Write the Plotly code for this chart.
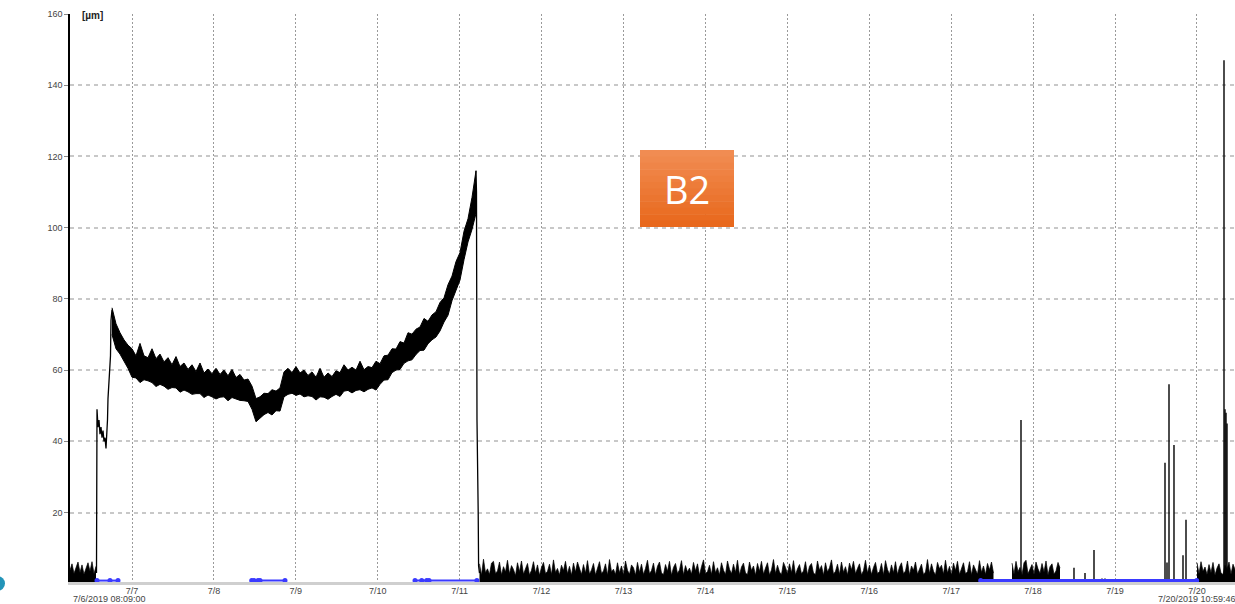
import pandas as pd
import plotly.graph_objects as go

BASE = pd.Timestamp("2019-07-06 00:00:00")

# ---------------- data (time = days after 2019-07-06 00:00, values in µm) -------------
x_range_days = [0.2432, 14.4644]
tick_days = [1, 2, 3, 4, 5, 6, 7, 8, 9, 10, 11, 12, 13, 14]
tick_labels = ["7/7", "7/8", "7/9", "7/10", "7/11", "7/12", "7/13", "7/14",
               "7/15", "7/16", "7/17", "7/18", "7/19", "7/20"]
y_ticks = [20, 40, 60, 80, 100, 120, 140, 160]

NOISE_STEP = 0.024414  # sampling step of the noise-floor readings (days)

# noise floor before the sensor was set
pre_noise_start = 0.2432
pre_noise = [3.8, 5.6, 2.9, 4.8, 6.1, 3.2, 5.3, 2.7, 4.4, 5.9, 3.5, 6.2, 2.8, 4.9]

# first rise
rise_days = [0.5666, 0.5728, 0.5850, 0.5972, 0.6094, 0.6216, 0.6338, 0.6460, 0.6582,
             0.6704, 0.6826, 0.6948, 0.7009, 0.7070, 0.7131, 0.7192, 0.7314, 0.7375,
             0.7437, 0.7559]
rise_vals = [3, 49, 44, 46, 42, 44, 41, 43, 40, 41, 38, 42, 46, 52, 55, 56, 60, 64, 74, 77]

# main noisy band (lower / upper envelope)
band_start = 0.7559
band_step = 0.04883
band_lower = [70, 66, 64.5, 62.5, 60.5, 58, 57.8, 56.5, 57.3, 57,
              56.5, 55.4, 56, 55.5, 54.6, 55.1, 55, 53.8, 54.4, 53.9,
              53.2, 53.4, 53.4, 52.3, 53, 52.5, 51.9, 52.4, 52.5, 51.4,
              52.3, 51.9, 51.5, 51.4, 51.2, 49, 45.5, 46.5, 47.5, 48.1,
              47.4, 48.6, 48.5, 52.5, 53.2, 53.5, 52.9, 53.3, 52.5, 52.8,
              52.6, 51.6, 52.5, 52.4, 51.8, 52.6, 53.2, 52.6, 54.1, 54.3,
              53.6, 54.3, 54.5, 53.9, 54.6, 55, 54.4, 56, 57.2, 57.3,
              59.3, 60, 60.2, 61.9, 62.6, 62.9, 64.4, 65.5, 65.6, 67.4,
              68.5, 69.3, 71, 73.5, 75.4, 79.5, 82.5, 85.3, 91, 96,
              99.5, 104]
band_upper = [77.5, 73, 70.5, 68.5, 67, 66, 64, 67.5, 64, 63.5, 66, 63.2, 64.5, 62.3, 63.5,
              61.5, 63.8, 61, 62, 60.2, 61.5, 59.6, 62, 59.2, 60.3, 59, 60.5, 58.8, 60, 58.4,
              60.2, 57.9, 58.8, 57.2, 57.5, 55.5, 52, 52.5, 53.5, 53.4, 54.5, 54.1, 55, 59.5,
              60.5, 59.3, 61, 59.2, 60, 58.5, 59.5, 58, 60.5, 58, 59.2, 58.2, 59.8, 59.3, 61.5,
              60, 60.8, 60, 62.5, 60.1, 61, 60.7, 62.5, 61.8, 64, 64.2, 66, 65.9, 68, 67.6,
              70.5, 70.1, 71.5, 72.1, 74.5, 73.7, 75.5, 76.4, 79, 80.3, 84, 86.4, 90.5, 93,
              99, 102.5, 108.5, 116]

# collapse after the peak on 7/11
drop_days = [5.1992, 5.2053, 5.2114, 5.2151, 5.2188, 5.2224, 5.2261, 5.2310, 5.2419]
drop_vals = [116, 110, 46, 30, 44, 28, 20, 5, 3]

# noise floor 7/11 - 7/17
noise1_start = 5.2419
noise1 = [5.6, 2.4, 6.9, 3.1, 4.2, 2.6, 5.8, 6.3, 2.9, 3.6, 6.1, 2.5, 4.8, 3.3, 6.6, 2.8, 5.1, 4.0, 2.3, 5.9,
          3.4, 6.4, 2.7, 4.5, 5.7, 2.5, 3.8, 6.2, 3.0, 5.3, 2.4, 4.6, 6.0, 2.9, 3.5, 5.5, 2.6, 6.7, 3.2, 4.3,
          2.5, 5.2, 3.7, 6.3, 2.8, 4.9, 2.4, 5.8, 3.3, 6.1, 4.4, 2.6, 5.4, 3.0, 6.5, 2.7, 3.9, 5.7, 2.5, 4.7,
          6.2, 2.9, 3.6, 5.6, 2.4, 6.8, 3.4, 4.1, 2.6, 5.9, 3.1, 5.0, 2.5, 6.4, 3.8, 2.7, 5.3, 4.5, 2.4, 6.0,
          3.2, 5.5, 2.6, 4.3, 6.6, 2.8, 3.7, 5.8, 2.5, 4.9, 6.1, 3.0, 2.6, 5.4, 3.5, 6.3, 2.4, 4.6, 5.7, 2.9,
          3.9, 6.5, 2.5, 5.1, 3.3, 4.4, 2.7, 6.0, 3.6, 5.6, 2.4, 4.8, 6.7, 2.9, 3.4, 5.2, 2.6, 6.2, 3.1, 4.5,
          2.5, 5.9, 3.8, 2.6, 6.4, 4.1, 2.8, 5.5, 3.2, 6.6, 2.5, 4.7, 5.8, 3.0, 2.6, 6.1, 3.7, 5.0, 2.4, 5.7,
          3.5, 6.3, 2.7, 4.4, 5.9, 2.5, 3.9, 6.8, 2.9, 5.2, 3.3, 2.6, 6.0, 4.6, 2.8, 5.6, 3.1, 6.5, 2.5, 4.2,
          5.4, 2.8, 3.6, 6.2, 2.5, 4.9, 5.7, 3.0, 2.6, 6.4, 3.8, 5.1, 2.4, 5.9, 3.3, 4.5, 6.7, 2.7, 3.5, 5.5,
          2.6, 6.1, 3.2, 4.8, 2.5, 5.8, 3.9, 6.3, 2.8, 4.3, 5.6, 2.5, 3.7, 6.6, 3.0, 5.2, 2.6, 4.6, 6.0, 2.9,
          3.4, 5.7, 2.5, 6.5, 4.0, 2.7, 5.3, 3.1, 6.2, 2.6, 4.7, 5.9, 2.8, 3.6, 6.4, 2.5, 5.0, 3.8, 6.1, 2.7,
          4.4, 5.5, 2.6, 3.3, 6.8, 2.9, 5.6, 3.5, 2.5, 6.0, 4.2, 5.2, 2.7, 6.6, 3.0, 4.9, 2.5, 5.8, 3.7, 6.3,
          2.6, 4.6, 5.9, 2.8, 3.4, 6.2, 2.5, 5.3, 4.1, 2.7, 6.5, 3.2, 5.0, 2.6, 5.7, 3.9, 6.1, 3.0]

# noise floor around 7/18
noise2_start = 11.7422
noise2 = [5.8, 2.7, 6.3, 3.4, 4.6, 2.5, 5.9, 6.6, 2.8, 3.9, 5.4, 2.6, 6.1, 4.2, 2.9, 5.7, 3.3,
          6.4, 2.5, 4.8, 5.6, 2.7, 3.6, 6.0, 4.4]

# noise floor after 7/20
noise3_start = 14.0005
noise3 = [5.9, 2.8, 6.2, 3.5, 4.7, 2.6, 5.4, 3.1, 6.0, 2.5, 4.4, 5.6, 3.0, 2.6, 5.2, 4.1,
          6.1, 2.7, 5.5, 4.0]

# isolated spikes
spike_days = [11.8521, 12.4990, 12.6333, 12.7432, 12.8408, 12.8774, 12.9385, 13.4512,
              13.6099, 13.6343, 13.6587, 13.7197, 13.8296, 13.8662,
              14.3301, 14.3423, 14.3545, 14.3667]
spike_vals = [46, 4.5, 3, 9.5, 1.5, 1.5, 1.2, 1.0, 34, 6, 56, 39, 8, 18, 147, 49, 48, 45]

# blue status segments
blue_segments = [(0.5728, 0.8292), (2.4648, 2.8799), (4.4546, 5.2114)]
blue_long_segment = (11.3601, 13.9968)
blue_marker_days = [0.5728, 0.7314, 0.8292, 2.4612, 2.4893, 2.5381, 2.5625, 2.8677,
                    4.4546, 4.5364, 4.5974, 4.6255, 5.2102, 11.3601, 13.9968]
blue_level = 0.9

# ---------------- helpers ----------------
def to_time(days):
    return [None if d is None else str(BASE + pd.Timedelta(days=d)) for d in days]

def regular(start, step, n):
    return [start + i * step for i in range(n)]

L, R, T, B = 70, 0, 14, 22
W, H = 1235, 604
PW, PH = W - L - R, H - T - B

def px(x):
    return (x - L) / PW

def py(y):
    return (H - B - y) / PH

fig = go.Figure()
BLACK = "black"

def add_noise(start, vals):
    fig.add_trace(go.Scatter(x=to_time(regular(start, NOISE_STEP, len(vals))), y=vals,
                             mode="lines", line=dict(color=BLACK, width=0.7),
                             fill="tozeroy", fillcolor=BLACK, hoverinfo="skip"))

add_noise(pre_noise_start, pre_noise)
fig.add_trace(go.Scatter(x=to_time(rise_days), y=rise_vals, mode="lines",
                         line=dict(color=BLACK, width=1.3)))
band_days = regular(band_start, band_step, len(band_lower))
fig.add_trace(go.Scatter(x=to_time(band_days), y=band_lower, mode="lines",
                         line=dict(color=BLACK, width=1)))
fig.add_trace(go.Scatter(x=to_time(band_days), y=band_upper, mode="lines",
                         line=dict(color=BLACK, width=1), fill="tonexty", fillcolor=BLACK))
fig.add_trace(go.Scatter(x=to_time(drop_days), y=drop_vals, mode="lines",
                         line=dict(color=BLACK, width=1.3)))
add_noise(noise1_start, noise1)
add_noise(noise2_start, noise2)
add_noise(noise3_start, noise3)

sx, sy = [], []
for d, v in zip(spike_days, spike_vals):
    sx += [d, d, None]
    sy += [0, v, None]
fig.add_trace(go.Scatter(x=to_time(sx), y=sy, mode="lines",
                         line=dict(color=BLACK, width=1.4)))

bx, by = [], []
for a, b in blue_segments:
    bx += [a, b, None]
    by += [blue_level, blue_level, None]
BLUE = "#3a3aff"
fig.add_trace(go.Scatter(x=to_time(bx), y=by, mode="lines", line=dict(color=BLUE, width=2)))
fig.add_trace(go.Scatter(x=to_time(list(blue_long_segment)), y=[blue_level, blue_level],
                         mode="lines", line=dict(color=BLUE, width=3)))
fig.add_trace(go.Scatter(x=to_time(blue_marker_days), y=[blue_level] * len(blue_marker_days),
                         mode="markers", marker=dict(color=BLUE, size=5)))

tickfont = dict(family="Liberation Sans, Arial", size=9, color="#444444")
fig.update_layout(
    width=W, height=H, margin=dict(l=L, r=R, t=T, b=B, pad=0),
    paper_bgcolor="white", plot_bgcolor="white", showlegend=False,
    xaxis=dict(type="date", range=to_time(x_range_days), tickvals=to_time(tick_days),
               ticktext=tick_labels, showgrid=True, gridcolor="#9a9a9a", gridwidth=1,
               griddash="2px,2px", showline=True, linecolor="#cfcfcf", linewidth=3,
               ticks="", tickfont=tickfont, zeroline=False, layer="below traces",
               ticklabelstandoff=-2),
    yaxis=dict(range=[0.5, 160], tickvals=y_ticks, showgrid=True, gridcolor="#c8c8c8",
               gridwidth=1.5, griddash="4px,4px", showline=True, linecolor="black",
               linewidth=1.5, ticks="outside", ticklen=4, tickcolor="#888888",
               tickfont=tickfont, zeroline=False),
)

# orange label box with a vertical gradient
x0, x1, y0, y1 = 640, 734, 150, 227
top_c, bot_c = (241, 140, 82), (232, 104, 28)
nb = 12
for i in range(nb):
    f = i / (nb - 1)
    c = tuple(int(round(top_c[k] + (bot_c[k] - top_c[k]) * f)) for k in range(3))
    ya = y0 + (y1 - y0) * i / nb
    yb = y0 + (y1 - y0) * (i + 1) / nb
    fig.add_shape(type="rect", xref="paper", yref="paper", x0=px(x0), x1=px(x1),
                  y0=py(ya), y1=py(min(yb + 0.5, y1)), fillcolor="rgb(%d,%d,%d)" % c,
                  line=dict(width=0), layer="above")
fig.add_annotation(xref="paper", yref="paper", x=px(687), y=py(189), text="B2",
                   xanchor="center", yanchor="middle", showarrow=False,
                   font=dict(family="Open Sans", size=38, color="white"))

fig.add_annotation(xref="paper", yref="paper", x=px(80), y=py(15), text="<b>[µm]</b>",
                   xanchor="left", yanchor="middle", showarrow=False, bgcolor="white",
                   font=dict(family="Liberation Sans, Arial", size=10, color="#222222"))
fig.add_annotation(xref="paper", yref="paper", x=px(71), y=py(598.5),
                   text="7/6/2019 08:09:00", xanchor="left", yanchor="middle",
                   showarrow=False, font=tickfont)
fig.add_annotation(xref="paper", yref="paper", x=px(1238), y=py(598.5),
                   text="7/20/2019 10:59:46", xanchor="right", yanchor="middle",
                   showarrow=False, font=tickfont)

# partly visible round bullet at the left edge
fig.add_shape(type="circle", xref="paper", yref="paper", x0=px(-10), x1=px(5),
              y0=py(591), y1=py(576), fillcolor="#2394b8", line=dict(width=0))

fig.write_html("out.html", config={"displayModeBar": False},
               post_script="document.body.style.margin='0px';")
